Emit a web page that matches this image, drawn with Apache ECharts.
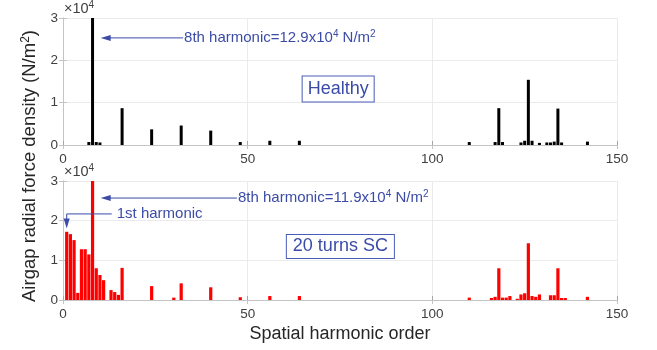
<!DOCTYPE html>
<html>
<head>
<meta charset="utf-8">
<script src="https://cdn.jsdelivr.net/npm/echarts@6/dist/echarts.min.js"></script>
<style>
  html, body { margin: 0; padding: 0; background: #fff; }
  #chart { width: 657px; height: 350px; }
</style>
</head>
<body>
<div id="chart"></div>
<script>
// values in units of 1e4 N/m^2
var healthyOrder = [7, 8, 9, 10, 16, 24, 32, 40, 48, 56, 64, 110, 117, 118, 119, 124, 125, 126, 127, 129, 131, 132, 133, 134, 135, 142];
var healthyValue = [0.07, 12.9, 0.07, 0.06, 0.87, 0.37, 0.46, 0.34, 0.07, 0.1, 0.1, 0.07, 0.07, 0.87, 0.07, 0.06, 0.1, 1.54, 0.1, 0.05, 0.06, 0.06, 0.08, 0.86, 0.06, 0.08];

var scOrder = [1, 2, 3, 4, 5, 6, 7, 8, 9, 10, 11, 13, 14, 15, 16, 24, 30, 32, 40, 48, 56, 64, 110, 116, 117, 118, 119, 120, 121, 123, 124, 125, 126, 127, 128, 129, 132, 133, 134, 135, 136, 142];
var scValue = [1.72, 1.66, 1.51, 0.18, 1.28, 1.28, 1.15, 11.9, 0.80, 0.63, 0.50, 0.25, 0.20, 0.13, 0.81, 0.35, 0.06, 0.42, 0.32, 0.07, 0.1, 0.1, 0.06, 0.05, 0.08, 0.80, 0.06, 0.06, 0.1, 0.03, 0.14, 0.17, 1.43, 0.1, 0.08, 0.14, 0.12, 0.12, 0.80, 0.05, 0.05, 0.08];

var xTicks = [0, 50, 100, 150];
var yTicks = [0, 1, 2, 3];

var FONT = 'Liberation Sans';
var BLUE = '#3b4ca8';

function pairs(xs, ys) {
  return xs.map(function (x, i) { return [x, ys[i]]; });
}

var chart = echarts.init(document.getElementById('chart'));

function mainX(gi, showName) {
  return {
    type: 'value', gridIndex: gi,
    min: xTicks[0], max: xTicks[xTicks.length - 1], interval: 50,
    axisLine: { lineStyle: { color: '#a6a6a6' } },
    axisTick: { inside: true, length: 4, lineStyle: { color: '#a6a6a6' } },
    axisLabel: { color: '#404040', fontSize: 13.5, fontFamily: FONT, margin: 7 },
    splitLine: { show: true, lineStyle: { color: '#ebebeb' } },
    name: showName ? 'Spatial harmonic order' : '',
    nameLocation: 'middle', nameGap: 25,
    nameTextStyle: { color: '#262626', fontSize: 18, fontFamily: FONT }
  };
}
function mirrorX(gi) {
  return {
    type: 'value', gridIndex: gi, position: 'top',
    min: 0, max: 150, interval: 50,
    axisLine: { lineStyle: { color: '#c4c4c4' } },
    axisTick: { inside: true, length: 4, lineStyle: { color: '#c4c4c4' } },
    axisLabel: { show: false }, splitLine: { show: false }
  };
}
function mainY(gi) {
  return {
    type: 'value', gridIndex: gi,
    min: yTicks[0], max: yTicks[yTicks.length - 1], interval: 1,
    axisLine: { show: true, lineStyle: { color: '#c4c4c4' } },
    axisTick: { show: true, inside: true, length: 4, lineStyle: { color: '#c4c4c4' } },
    axisLabel: { color: '#404040', fontSize: 13.5, fontFamily: FONT, margin: 5 },
    splitLine: { show: true, lineStyle: { color: '#ebebeb' } }
  };
}
function mirrorY(gi) {
  return {
    type: 'value', gridIndex: gi, position: 'right',
    min: 0, max: 3, interval: 1,
    axisLine: { show: true, lineStyle: { color: '#c4c4c4' } },
    axisTick: { show: true, inside: true, length: 4, lineStyle: { color: '#c4c4c4' } },
    axisLabel: { show: false }, splitLine: { show: false }
  };
}

chart.setOption({
  animation: false,
  backgroundColor: '#fff',
  grid: [
    { left: 63, right: 40, top: 18, height: 127 },
    { left: 63, right: 40, top: 181, height: 119 }
  ],
  xAxis: [mainX(0, false), mirrorX(0), mainX(1, true), mirrorX(1)],
  yAxis: [mainY(0), mirrorY(0), mainY(1), mirrorY(1)],
  series: [
    {
      name: 'Healthy', type: 'bar', xAxisIndex: 0, yAxisIndex: 0,
      barWidth: 3, itemStyle: { color: '#000' },
      data: pairs(healthyOrder, healthyValue)
    },
    {
      name: '20 turns SC', type: 'bar', xAxisIndex: 2, yAxisIndex: 2,
      barWidth: 3.2, itemStyle: { color: '#ff0000' },
      data: pairs(scOrder, scValue)
    }
  ]
});

// annotations, anchored in data coordinates
function px(gi, pt) { return chart.convertToPixel({ gridIndex: gi }, pt); }

function arrowHead(tip, dir) {
  var L = 10, W = 3;
  var pts = dir === 'left'
    ? [[tip[0], tip[1]], [tip[0] + L, tip[1] - W], [tip[0] + L, tip[1] + W]]
    : [[tip[0], tip[1]], [tip[0] - W, tip[1] - L], [tip[0] + W, tip[1] - L]];
  return { type: 'polygon', shape: { points: pts }, style: { fill: BLUE }, z: 10 };
}

var richSup = {
  n: { fontSize: 15, fontFamily: FONT, fill: BLUE },
  s: { fontSize: 10, fontFamily: FONT, fill: BLUE, verticalAlign: 'bottom', padding: [0, 0, 8, 0] }
};

var g = [];

// top: 8th harmonic arrow
var a0 = px(0, [32.5, 2.53]), a1 = px(0, [10.2, 2.53]);
g.push({ type: 'line', shape: { x1: a0[0], y1: a0[1], x2: a1[0] + 8, y2: a1[1] }, style: { stroke: BLUE, lineWidth: 1 }, z: 10 });
g.push(arrowHead(a1, 'left'));
g.push({
  type: 'text', x: a0[0] + 1, y: a0[1], z: 10,
  style: { text: '{n|8th harmonic=12.9x10}{s|4}{n| N/m}{s|2}', rich: richSup, verticalAlign: 'middle', fill: BLUE, font: '15px ' + FONT }
});

// bottom: 8th harmonic arrow
var b0 = px(1, [47.1, 2.57]), b1 = px(1, [10.2, 2.57]);
g.push({ type: 'line', shape: { x1: b0[0], y1: b0[1], x2: b1[0] + 8, y2: b1[1] }, style: { stroke: BLUE, lineWidth: 1 }, z: 10 });
g.push(arrowHead(b1, 'left'));
g.push({
  type: 'text', x: b0[0] + 1, y: b0[1], z: 10,
  style: { text: '{n|8th harmonic=11.9x10}{s|4}{n| N/m}{s|2}', rich: richSup, verticalAlign: 'middle', fill: BLUE, font: '15px ' + FONT }
});

// bottom: 1st harmonic elbow arrow
var c0 = px(1, [13.2, 2.17]), c1 = px(1, [1.0, 2.17]), c2 = px(1, [1.0, 1.80]);
g.push({ type: 'polyline', shape: { points: [c0, c1, [c2[0], c2[1] - 8]] }, style: { stroke: BLUE, lineWidth: 1, fill: null }, z: 10 });
g.push(arrowHead(c2, 'down'));
g.push({
  type: 'text', x: c0[0] + 5, y: c0[1], z: 10,
  style: { text: '1st harmonic', fill: BLUE, font: '15px ' + FONT, verticalAlign: 'middle' }
});

// boxed case labels
var h = px(0, [74.5, 1.32]);
g.push({
  type: 'text', x: h[0], y: h[1], z: 10,
  style: {
    text: 'Healthy', fill: BLUE, font: '18px ' + FONT, align: 'center', verticalAlign: 'middle',
    borderColor: '#4a5cb8', borderWidth: 1, padding: [4, 5, 3, 5], backgroundColor: '#fff'
  }
});
var s = px(1, [75.1, 1.35]);
g.push({
  type: 'text', x: s[0], y: s[1], z: 10,
  style: {
    text: '20 turns SC', fill: BLUE, font: '18px ' + FONT, align: 'center', verticalAlign: 'middle',
    borderColor: '#4a5cb8', borderWidth: 1, padding: [3, 6, 2, 6], backgroundColor: '#fff'
  }
});

// exponent labels above axes
var richExp = {
  n: { fontSize: 14.5, fontFamily: FONT, fill: '#404040' },
  s: { fontSize: 10, fontFamily: FONT, fill: '#404040', verticalAlign: 'bottom', padding: [0, 0, 7, 0] }
};
[0, 1].forEach(function (gi) {
  var p = px(gi, [0, 3]);
  g.push({
    type: 'text', x: p[0] + 1, y: p[1] - 1, z: 10,
    style: { text: '{n|\u00d710}{s|4}', rich: richExp, verticalAlign: 'bottom', font: '14.5px ' + FONT }
  });
});

// shared y-axis title
g.push({
  type: 'text', x: 30, y: 166, rotation: Math.PI / 2, z: 10,
  style: {
    text: '{n|Airgap radial force density (N/m}{s|2}{n|)}',
    rich: {
      n: { fontSize: 18.5, fontFamily: FONT, fill: '#262626' },
      s: { fontSize: 12, fontFamily: FONT, fill: '#262626', verticalAlign: 'bottom', padding: [0, 0, 9, 0] }
    },
    align: 'center', verticalAlign: 'middle', font: '18.5px ' + FONT
  }
});

chart.setOption({ graphic: g });
</script>
</body>
</html>
